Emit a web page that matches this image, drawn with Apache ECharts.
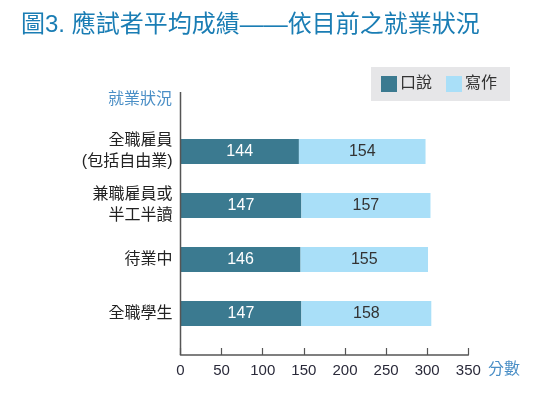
<!DOCTYPE html>
<html>
<head>
<meta charset="utf-8">
<script src="https://cdn.jsdelivr.net/npm/echarts@6/dist/echarts.min.js"></script>
<style>
html,body{margin:0;padding:0;background:#fff;}
#chart{width:545px;height:394px;}
</style>
</head>
<body>
<div id="chart"></div>
<script>
var titleText = '圖3. 應試者平均成績——依目前之就業狀況';
var categories = ['全職雇員\n(包括自由業)', '兼職雇員或\n半工半讀', '待業中', '全職學生'];
var seriesNames = ['口說', '寫作'];
var speaking = [144, 147, 146, 147];
var writing = [154, 157, 155, 158];
var xTicks = [0, 50, 100, 150, 200, 250, 300, 350];
var yAxisTitle = '就業狀況';
var xAxisTitle = '分數';

var FONT = '"Liberation Sans", "Noto Sans CJK TC", sans-serif';
var DARK = '#3b7a90';
var LIGHT = '#a9dff8';

var chart = echarts.init(document.getElementById('chart'), null, {renderer: 'canvas'});
chart.setOption({
  animation: false,
  backgroundColor: '#ffffff',
  textStyle: {fontFamily: FONT},
  title: {
    text: titleText,
    left: 16, top: 8,
    textStyle: {fontFamily: FONT, fontSize: 24, fontWeight: 'normal', color: '#1a7db4'}
  },
  legend: {
    data: seriesNames,
    left: 371, top: 67,
    orient: 'horizontal',
    backgroundColor: '#e6e6e8',
    padding: [9, 13, 9, 10],
    itemWidth: 16, itemHeight: 16, itemGap: 14,
    icon: 'rect',
    textStyle: {fontFamily: FONT, fontSize: 16, color: '#333', padding: [0, 0, 0, -2]}
  },
  grid: {left: 180.5, right: 76.7, top: 124.5, bottom: 53.5, containLabel: false},
  xAxis: {
    type: 'value',
    min: xTicks[0], max: xTicks[xTicks.length - 1], interval: 50,
    offset: 14.5,
    axisLine: {show: true, lineStyle: {color: '#555', width: 1.5}},
    axisTick: {show: true, inside: true, length: 7, lineStyle: {color: '#555', width: 1.2}},
    axisLabel: {fontFamily: FONT, fontSize: 15, color: '#2a2a3a', margin: 8},
    splitLine: {show: false}
  },
  yAxis: {
    type: 'category',
    data: categories,
    inverse: true,
    axisLine: {show: false},
    axisTick: {show: false},
    axisLabel: {fontFamily: FONT, fontSize: 16, color: '#222', margin: 8, lineHeight: 21, align: 'right'}
  },
  graphic: [
    {type: 'line', shape: {x1: 180.5, y1: 92, x2: 180.5, y2: 355}, style: {stroke: '#555', lineWidth: 1.5}, z: 10},
    {type: 'text', style: {x: 172, y: 100, text: yAxisTitle, align: 'right', verticalAlign: 'middle', fontFamily: FONT, fontSize: 16, fill: '#4b8fc6'}},
    {type: 'text', style: {x: 488, y: 370, text: xAxisTitle, align: 'left', verticalAlign: 'middle', fontFamily: FONT, fontSize: 16, fill: '#4b8fc6'}}
  ],
  series: [
    {
      name: seriesNames[0], type: 'bar', stack: 'total', data: speaking, barWidth: 25,
      itemStyle: {color: DARK},
      label: {show: true, position: 'inside', color: '#fff', fontFamily: FONT, fontSize: 16}
    },
    {
      name: seriesNames[1], type: 'bar', stack: 'total', data: writing, barWidth: 25,
      itemStyle: {color: LIGHT},
      label: {show: true, position: 'inside', color: '#333', fontFamily: FONT, fontSize: 16}
    }
  ]
});
</script>
</body>
</html>
